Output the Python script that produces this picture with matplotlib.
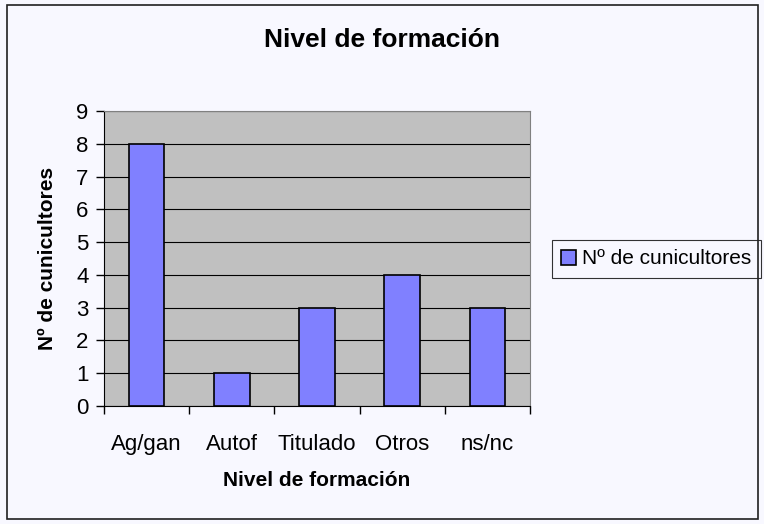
import matplotlib.pyplot as plt
from matplotlib.patches import Rectangle
import numpy as np

categories = ["Ag/gan", "Autof", "Titulado", "Otros", "ns/nc"]
values = [8, 1, 3, 4, 3]
series_name = "Nº de cunicultores"

plt.rcParams['font.family'] = ['Liberation Sans', 'DejaVu Sans']

fig = plt.figure(figsize=(7.64, 5.24), dpi=100)
fig.patch.set_facecolor("#F8F8FF")
fig.patches.append(Rectangle((7 / 764, 5 / 524), 751 / 764, 514 / 524, transform=fig.transFigure,
                             fill=False, edgecolor="#202020", linewidth=1.2, zorder=10))

ax = fig.add_axes([104 / 764, 118 / 524, 426 / 764, 295 / 524])
ax.set_facecolor("#C0C0C0")
x = np.arange(len(categories))
ax.bar(x, values, width=0.42, color="#8080FF", edgecolor="black", linewidth=1.2,
       label=series_name, zorder=3)

ax.set_xlim(-0.5, len(categories) - 0.5)
ax.set_ylim(0, 9)
ax.set_yticks(range(0, 10))
ax.yaxis.grid(True, color="black", linewidth=0.8, zorder=1)
ax.set_axisbelow(True)

ax.set_xticks(x)
ax.set_xticklabels(categories, fontsize=16)
ax.tick_params(axis="x", which="major", length=0, pad=20)
ax.set_xticks(np.arange(-0.5, len(categories)), minor=True)
ax.tick_params(axis="x", which="minor", length=6, width=1, direction="out")
ax.tick_params(axis="y", labelsize=16, length=6, width=1, direction="out", pad=5)

for s in ["top", "right"]:
    ax.spines[s].set_color("#808080")
ax.spines["left"].set_color("black")
ax.spines["bottom"].set_color("black")

ax.set_xlabel("Nivel de formación", fontsize=15, fontweight="bold", labelpad=12)
ax.set_ylabel(series_name, fontsize=15, fontweight="bold", labelpad=14)
fig.text(0.5, 1 - 40 / 524, "Nivel de formación", ha="center", va="center", fontsize=19, fontweight="bold")

leg = fig.legend(loc="center left", bbox_to_anchor=(552 / 764, 1 - 259 / 524), fontsize=15,
                 frameon=True, fancybox=False, edgecolor="black", facecolor="#F8F8FF",
                 handlelength=0.7, handleheight=0.7, handletextpad=0.3, borderpad=0.45,
                 borderaxespad=0)
leg.get_frame().set_linewidth(0.8)

fig.savefig("out.png", dpi=100, facecolor=fig.get_facecolor())
